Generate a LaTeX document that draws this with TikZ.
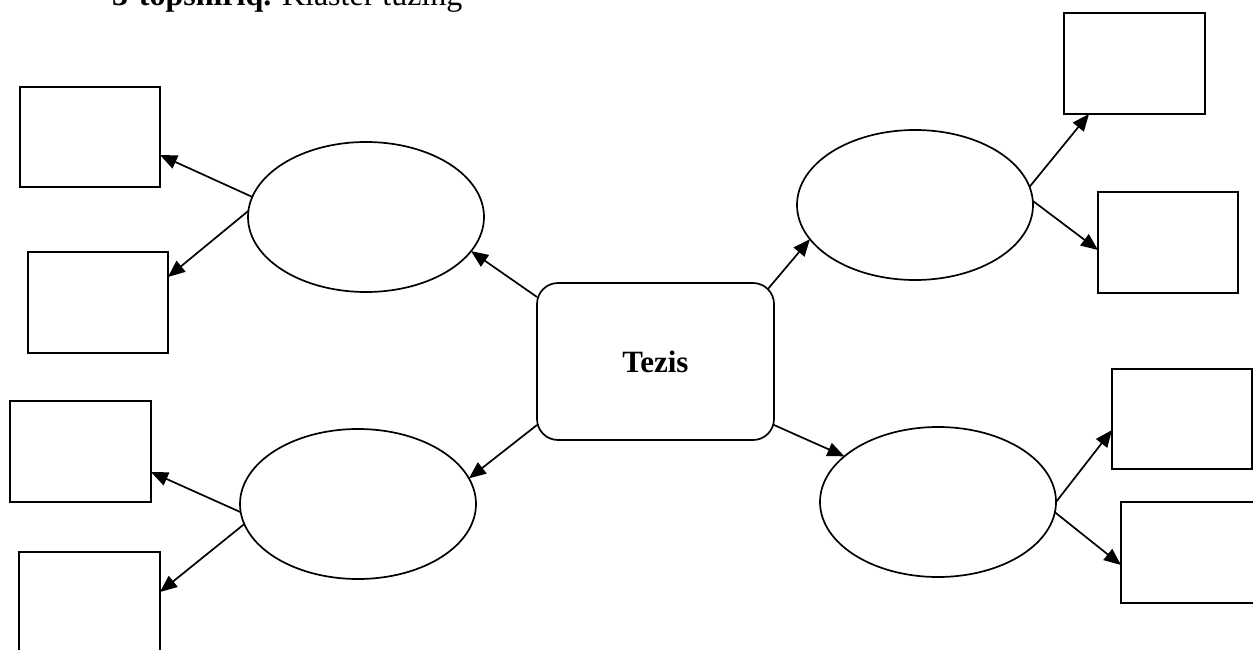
\documentclass[tikz,border=0pt]{standalone}
\usepackage{fontspec}
\setmainfont{Liberation Serif}
\usetikzlibrary{arrows.meta,shapes.geometric}
\tikzset{
  box/.style={draw, line width=1.7pt, rectangle, inner sep=0pt, outer sep=0pt, minimum width=141pt, minimum height=101pt},
  oval/.style={draw, line width=1.7pt, ellipse, inner sep=0pt, outer sep=0pt, minimum width=236pt, minimum height=150pt},
  center/.style={draw, line width=1.7pt, rectangle, rounded corners=21pt, inner sep=0pt, outer sep=0pt, minimum width=237pt, minimum height=157pt, font=\fontsize{31}{36}\selectfont\bfseries},
  link/.style={line width=1.7pt, -{Triangle[length=17pt,width=14pt]}}
}
\begin{document}
\begin{tikzpicture}[x=1pt,y=-1pt]
\path[fill=white, use as bounding box] (0,0) rectangle (1253,650);
% title
\node[anchor=base west, inner sep=0pt, font=\fontsize{32}{38}\selectfont] (title) at (112,6) {\textbf{3-topshiriq.} Klaster tuzing};
% center
\node[center] (T) at (655.5,361.5) {Tezis};
% ellipses
\node[oval] (E1) at (366,217) {};
\node[oval] (E2) at (358,504) {};
\node[oval] (E3) at (915,205) {};
\node[oval] (E4) at (938,502) {};
% boxes
\node[box, minimum width=140pt, minimum height=100pt] (R1) at (90,137) {};
\node[box, minimum width=140pt] (R2) at (98,302.5) {};
\node[box] (R3) at (80.5,451.5) {};
\node[box] (R4) at (89.5,602.5) {};
\node[box] (R5) at (1134.5,63.5) {};
\node[box, minimum width=140pt] (R6) at (1168,242.5) {};
\node[box, minimum width=140pt, minimum height=100pt] (R7) at (1182,419) {};
\node[box] (R8) at (1191.5,552.5) {};
% connectors from center
\draw[link] ([yshift=64.5pt]T.west) -- (E1.-18);
\draw[link] ([yshift=-63.5pt]T.west) -- (E2.13);
\draw[link] ([xshift=-6.4pt,yshift=-6.4pt]T.north east) -- (E3.198);
\draw[link] ([yshift=-63.5pt]T.east) -- (E4.154);
% connectors from ellipses
\draw[link] (E1.170) -- ([yshift=-18pt]R1.east);
\draw[link] (E1.177) -- ([yshift=25.5pt]R2.east);
\draw[link] (E2.184) -- ([yshift=-20.5pt]R3.east);
\draw[link] (E2.190) -- ([yshift=10.5pt]R4.east);
\draw[link] (E3.9) -- ([xshift=-45.5pt]R5.south);
\draw[link] (E3.2) -- ([yshift=-7.5pt]R6.west);
\draw[link] (E4.0) -- ([yshift=-11pt]R7.west);
\draw[link] (E4.-5) -- ([yshift=-12.5pt]R8.west);
\end{tikzpicture}
\end{document}
